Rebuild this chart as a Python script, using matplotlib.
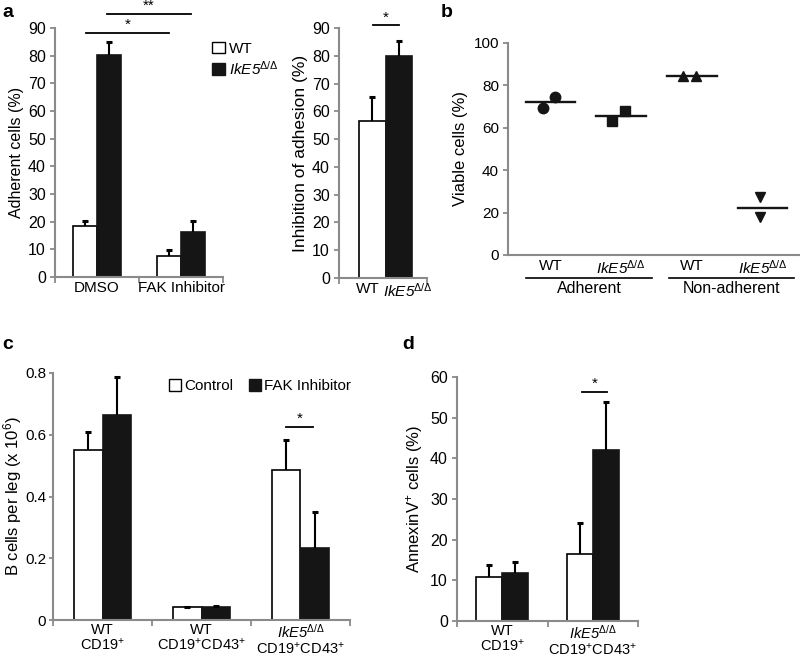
import numpy as np
import matplotlib
matplotlib.use("Agg")
import matplotlib.pyplot as plt
from matplotlib.patches import Patch
import matplotlib.transforms as mtransforms

plt.rcParams["font.family"] = ["Liberation Sans", "DejaVu Sans"]
plt.rcParams["font.size"] = 10
plt.rcParams["mathtext.fontset"] = "custom"
plt.rcParams["mathtext.rm"] = "Liberation Sans"
plt.rcParams["mathtext.it"] = "Liberation Sans:italic"
plt.rcParams["mathtext.sf"] = "Liberation Sans:italic"
plt.rcParams["mathtext.bf"] = "Liberation Sans:bold"

# italic gene name (digits italic too) with upright superscript
IK = r"$\mathsf{IkE5}^{\Delta/\Delta}$"

# --------------------------------------------------
# Data
# --------------------------------------------------
# panel a (left): adherent cells
a_groups = ["DMSO", "FAK Inhibitor"]
a_wt = [18.3, 7.7]
a_wt_err = [1.8, 1.9]
a_ko = [80.2, 16.1]
a_ko_err = [4.6, 4.0]

# panel a (right): inhibition of adhesion
inh_labels = ["WT", IK]
inh_vals = [56.7, 80.0]
inh_err = [8.3, 5.5]

# panel b: viable cells
b_cats = ["WT", IK, "WT", IK]
b_groups = ["Adherent", "Non-adherent"]
b_points = [[69.5, 74.3], [63.3, 68.0], [84.3, 84.5], [27.5, 18.0]]
b_means = [72.0, 65.6, 84.5, 22.4]
b_markers = ["o", "s", "^", "v"]

# panel c: B cells per leg
c_groups = ["WT\nCD19$^{+}$", "WT\nCD19$^{+}$CD43$^{+}$",
            IK + "\nCD19$^{+}$CD43$^{+}$"]
c_ctrl = [0.549, 0.041, 0.486]
c_ctrl_err = [0.060, 0.002, 0.096]
c_fak = [0.663, 0.042, 0.232]
c_fak_err = [0.124, 0.002, 0.119]

# panel d: AnnexinV+ cells
d_groups = ["WT\nCD19$^{+}$", IK + "\nCD19$^{+}$CD43$^{+}$"]
d_ctrl = [10.9, 16.4]
d_ctrl_err = [2.8, 7.8]
d_fak = [11.9, 42.1]
d_fak_err = [2.6, 11.7]

# --------------------------------------------------
# Layout helpers
# --------------------------------------------------
W, H = 800, 657
GRAY = "#8a8a8a"
BLACK = "#151515"
fig = plt.figure(figsize=(W / 100, H / 100), dpi=100)


def rect(x0, x1, ytop, ybot):
    return [x0 / W, 1 - ybot / H, (x1 - x0) / W, (ybot - ytop) / H]


def style(ax, ysize=11.5, xsize=11, xticks=True):
    for s in ["top", "right"]:
        ax.spines[s].set_visible(False)
    for s in ["left", "bottom"]:
        ax.spines[s].set_color(GRAY)
        ax.spines[s].set_linewidth(1.5)
    ax.tick_params(axis="y", colors=GRAY, labelcolor="black", length=3.5,
                   width=1.3, labelsize=ysize, pad=3)
    ax.tick_params(axis="x", which="major", colors=GRAY,
                   length=4 if xticks else 0, width=1.3, labelbottom=False)
    ax.tick_params(axis="x", which="minor", length=0, labelcolor="black",
                   labelsize=xsize, pad=3)


def errs(ax, x, v, e):
    # upward-only error bars with a cap on top
    x = np.asarray(x, dtype=float)
    top = np.asarray(v) + np.asarray(e)
    ax.vlines(x, v, top, color="black", lw=1.5, zorder=3)
    ax.plot(x, top, linestyle="none", marker="_", color="black",
            markersize=5, markeredgewidth=2.2, zorder=3)


def bars(ax, centers, v1, e1, v2, e2, w=0.29):
    centers = np.asarray(centers, dtype=float)
    ax.bar(centers - w / 2, v1, w, color="white", edgecolor="black", lw=1.2, zorder=2)
    ax.bar(centers + w / 2, v2, w, color=BLACK, edgecolor=BLACK, lw=1.2, zorder=2)
    errs(ax, centers - w / 2, v1, e1)
    errs(ax, centers + w / 2, v2, e2)


def sig(ax, x0, x1, y, text, dy):
    ax.plot([x0, x1], [y, y], color="black", lw=1.3, clip_on=False)
    ax.text((x0 + x1) / 2, y + dy, text, ha="center", va="bottom", fontsize=11)


# --------------------------------------------------
# Panel a (left)
# --------------------------------------------------
ax = fig.add_axes(rect(55, 223, 28, 277))
bars(ax, [0.5, 1.5], a_wt, a_wt_err, a_ko, a_ko_err)
ax.set_xlim(0, 2)
ax.set_ylim(0, 90)
ax.set_yticks(range(0, 91, 10))
ax.set_xticks([0, 1, 2])
ax.set_xticks([0.5, 1.5], minor=True)
ax.set_xticklabels(a_groups, minor=True)
ax.set_ylabel("Adherent cells (%)", fontsize=11.5, labelpad=3)
style(ax)
sig(ax, 0.37, 1.36, 88.2, "*", 0.3)
sig(ax, 0.62, 1.62, 95.2, "**", 0.3)
ax.legend(handles=[Patch(facecolor="white", edgecolor="black", label="WT"),
                   Patch(facecolor=BLACK, edgecolor=BLACK, label=IK)],
          loc="upper left", bbox_to_anchor=(0.9, 0.97), frameon=False,
          handlelength=0.8, handleheight=0.8, handletextpad=0.3,
          labelspacing=0.25, borderaxespad=0, fontsize=11)

# --------------------------------------------------
# Panel a (right)
# --------------------------------------------------
ax = fig.add_axes(rect(339, 427, 28, 278))
x = np.array([0.53 - 0.15, 0.53 + 0.15])
ax.bar(x[0], inh_vals[0], 0.3, color="white", edgecolor="black", lw=1.2, zorder=2)
ax.bar(x[1], inh_vals[1], 0.3, color=BLACK, edgecolor=BLACK, lw=1.2, zorder=2)
errs(ax, x, inh_vals, inh_err)
ax.set_xlim(0, 1)
ax.set_ylim(0, 90)
ax.set_yticks(range(0, 91, 10))
ax.set_xticks([0, 1])
ax.set_xticks([0.33, 0.78], minor=True)
ax.set_xticklabels(inh_labels, minor=True)
ax.set_ylabel("Inhibition of adhesion (%)", fontsize=12.5, labelpad=3)
style(ax)
sig(ax, 0.39, 0.68, 91, "*", 0.3)

# --------------------------------------------------
# Panel b
# --------------------------------------------------
ax = fig.add_axes(rect(508, 800, 43, 255))
xc = np.arange(len(b_cats), dtype=float)
offsets = [[-0.11, 0.07], [-0.13, 0.05], [-0.12, 0.06], [-0.04, -0.04]]
for i in range(len(b_cats)):
    ax.plot(xc[i] + np.array(offsets[i]), b_points[i], linestyle="none",
            marker=b_markers[i], color=BLACK, markersize=7.5, zorder=3)
    ax.plot([xc[i] - 0.35, xc[i] + 0.35], [b_means[i], b_means[i]],
            color=BLACK, lw=1.7, zorder=2)
ax.set_xlim(-0.6, 3.53)
ax.set_ylim(0, 100)
ax.set_yticks(range(0, 101, 20))
ax.set_xticks([])
ax.set_xticks(xc, minor=True)
ax.set_xticklabels(b_cats, minor=True)
ax.set_ylabel("Viable cells (%)", fontsize=12, labelpad=4)
style(ax, ysize=11, xticks=False)
trans = mtransforms.blended_transform_factory(ax.transData, ax.transAxes)
for (x0, x1), name in zip([(-0.34, 1.43), (1.68, 3.44)], b_groups):
    ax.plot([x0, x1], [-0.108, -0.108], color="black", lw=1.2,
            transform=trans, clip_on=False)
    ax.text((x0 + x1) / 2, -0.125, name, transform=trans, ha="center",
            va="top", fontsize=11.5)

# --------------------------------------------------
# Panel c
# --------------------------------------------------
ax = fig.add_axes(rect(53, 350, 373, 620))
bars(ax, [0.5, 1.5, 2.5], c_ctrl, c_ctrl_err, c_fak, c_fak_err)
ax.set_xlim(0, 3)
ax.set_ylim(0, 0.8)
ax.set_yticks([0, 0.2, 0.4, 0.6, 0.8])
ax.set_yticklabels(["0", "0.2", "0.4", "0.6", "0.8"])
ax.set_xticks([0, 1, 2, 3])
ax.set_xticks([0.5, 1.5, 2.5], minor=True)
ax.set_xticklabels(c_groups, minor=True, linespacing=1.0)
ax.set_ylabel("B cells per leg (x 10$^{6}$)", fontsize=12, labelpad=1)
style(ax, ysize=11, xsize=10.5)
ax.tick_params(axis="y", pad=2, length=3)
ax.tick_params(axis="x", which="minor", pad=2)
sig(ax, 2.35, 2.63, 0.625, "*", 0.003)
ax.legend(handles=[Patch(facecolor="white", edgecolor="black", label="Control"),
                   Patch(facecolor=BLACK, edgecolor=BLACK, label="FAK Inhibitor")],
          loc="upper left", bbox_to_anchor=(0.37, 1.0), frameon=False, ncol=2,
          handlelength=0.8, handleheight=0.8, handletextpad=0.2,
          columnspacing=1.0, borderaxespad=0, fontsize=11)

# --------------------------------------------------
# Panel d
# --------------------------------------------------
ax = fig.add_axes(rect(457, 638, 377, 621))
bars(ax, [0.5, 1.5], d_ctrl, d_ctrl_err, d_fak, d_fak_err)
ax.set_xlim(0, 2)
ax.set_ylim(0, 60)
ax.set_yticks(range(0, 61, 10))
ax.set_xticks([0, 1, 2])
ax.set_xticks([0.5, 1.5], minor=True)
ax.set_xticklabels(d_groups, minor=True, linespacing=1.0)
ax.set_ylabel("AnnexinV$^{+}$ cells (%)", fontsize=12, labelpad=4)
style(ax, ysize=11.5, xsize=10.5)
ax.tick_params(axis="x", which="minor", pad=2)
sig(ax, 1.38, 1.66, 56.3, "*", 0.3)

# panel letters
for x, y, s in [(2, 4, "a"), (441, 4, "b"), (2, 336, "c"), (402, 336, "d")]:
    fig.text(x / W, 1 - y / H, s, fontsize=14, fontweight="bold", va="top")

fig.savefig("out.png", dpi=100)
